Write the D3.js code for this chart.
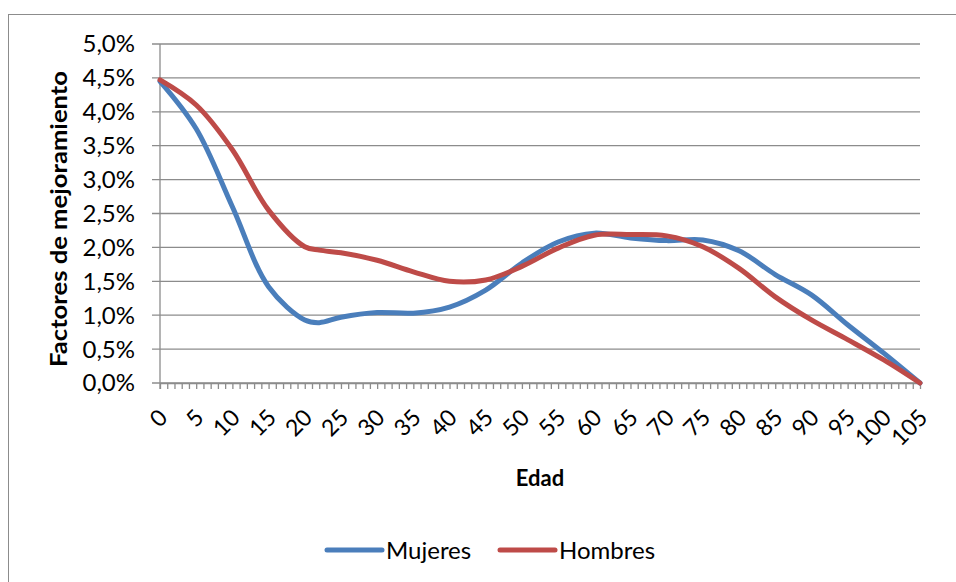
<!DOCTYPE html>
<html>
<head>
<meta charset="utf-8">
<script src="https://cdn.jsdelivr.net/npm/d3@7"></script>
<style>
  body { margin: 0; background: #fff; }
  svg text { font-family: Lato, "Noto Sans", sans-serif; fill: #000; }
</style>
</head>
<body>
<div id="chart"></div>
<script>
// ages (category labels) and values, in percent
var ages = [0, 5, 10, 15, 20, 22, 25, 30, 35, 40, 45, 50, 55, 60, 65, 70, 75, 80, 85, 90, 95, 100, 105];
var mujeres = [4.45, 3.75, 2.60, 1.42, 0.93, 0.89, 0.97, 1.04, 1.03, 1.12, 1.37, 1.77, 2.08, 2.21, 2.14, 2.10, 2.11, 1.95, 1.60, 1.30, 0.86, 0.44, 0.00];
var hombres = [4.47, 4.10, 3.44, 2.55, 2.01, 1.96, 1.92, 1.81, 1.64, 1.50, 1.52, 1.72, 1.99, 2.18, 2.19, 2.17, 2.01, 1.69, 1.27, 0.93, 0.64, 0.34, 0.00];
var yTicks = [0, 0.5, 1, 1.5, 2, 2.5, 3, 3.5, 4, 4.5, 5];
var seriesNames = ["Mujeres", "Hombres"];
var seriesColors = ["#4A7EBB", "#BE4B48"];

var W = 956, H = 582;
var margin = { top: 44, right: 36, bottom: 199, left: 160 };
var width = W - margin.left - margin.right;
var height = H - margin.top - margin.bottom;

var svg = d3.select("#chart")
  .append("svg")
  .attr("width", W)
  .attr("height", H);

// outer chart border
svg.append("rect")
  .attr("x", 8.5).attr("y", 14.5)
  .attr("width", W).attr("height", H)
  .attr("fill", "none")
  .attr("stroke", "#8c8c8c")
  .attr("stroke-width", 1);

var g = svg.append("g")
  .attr("transform", "translate(" + margin.left + "," + margin.top + ")");

var x = d3.scaleLinear().domain([0, 105]).range([0, width]);
var y = d3.scaleLinear().domain([0, 5]).range([height, 0]);

var fmt = function (d) { return d3.format(".1f")(d).replace(".", ",") + "%"; };

// gridlines
g.selectAll(".grid")
  .data(yTicks)
  .join("line")
  .attr("class", "grid")
  .attr("x1", -8).attr("x2", width)
  .attr("y1", d => y(d)).attr("y2", d => y(d))
  .attr("stroke", "#8c8c8c")
  .attr("stroke-width", 1.3);

// y axis line
g.append("line")
  .attr("x1", 0).attr("x2", 0)
  .attr("y1", 0).attr("y2", height + 6)
  .attr("stroke", "#8c8c8c")
  .attr("stroke-width", 1.3);

// y tick labels
g.selectAll(".ylab")
  .data(yTicks)
  .join("text")
  .attr("class", "ylab")
  .attr("x", -25)
  .attr("y", d => y(d))
  .attr("dy", "0.35em")
  .attr("text-anchor", "end")
  .style("font-size", "24px")
  .text(fmt);

// x axis: one tick per year, label every 5
var xAxis = d3.axisBottom(x)
  .tickValues(d3.range(0, 106))
  .tickSize(6)
  .tickSizeOuter(0)
  .tickFormat("");

var xg = g.append("g")
  .attr("transform", "translate(0," + height + ")")
  .call(xAxis);
xg.select(".domain").attr("stroke", "#8c8c8c").attr("stroke-width", 1.3);
xg.selectAll(".tick line").attr("stroke", "#8c8c8c").attr("stroke-width", 1.3);

g.selectAll(".xlab")
  .data(d3.range(0, 106, 5))
  .join("text")
  .attr("class", "xlab")
  .attr("text-anchor", "end")
  .attr("transform", d => "translate(" + (x(d) + 9) + "," + (height + 36) + ") rotate(-45)")
  .style("font-size", "23px")
  .text(d => d);

// axis titles
svg.append("text")
  .attr("transform", "translate(67," + 219 + ") rotate(-90)")
  .attr("text-anchor", "middle")
  .attr("textLength", 296)
  .attr("lengthAdjust", "spacingAndGlyphs")
  .style("font-size", "23px")
  .style("font-weight", "bold")
  .text("Factores de mejoramiento");

svg.append("text")
  .attr("x", 540)
  .attr("y", 486)
  .attr("text-anchor", "middle")
  .style("font-size", "22px")
  .style("font-weight", "bold")
  .text("Edad");

// lines
var line = d3.line()
  .x(d => x(d[0]))
  .y(d => y(d[1]))
  .curve(d3.curveCatmullRom.alpha(0.5));

[mujeres, hombres].forEach(function (vals, i) {
  g.append("path")
    .datum(ages.map((a, j) => [a, vals[j]]))
    .attr("fill", "none")
    .attr("stroke", seriesColors[i])
    .attr("stroke-width", 5)
    .attr("stroke-linejoin", "round")
    .attr("stroke-linecap", "round")
    .attr("d", line);
});

// legend
var legendX = [327, 500];
var legend = svg.selectAll(".legend")
  .data(seriesNames)
  .join("g")
  .attr("class", "legend")
  .attr("transform", (d, i) => "translate(" + legendX[i] + ",550)");

legend.append("line")
  .attr("x1", 0).attr("x2", 55)
  .attr("stroke", (d, i) => seriesColors[i])
  .attr("stroke-width", 5)
  .attr("stroke-linecap", "round");

legend.append("text")
  .attr("x", 59)
  .attr("y", 9)
  .style("font-size", "24px")
  .text(d => d);
</script>
</body>
</html>
